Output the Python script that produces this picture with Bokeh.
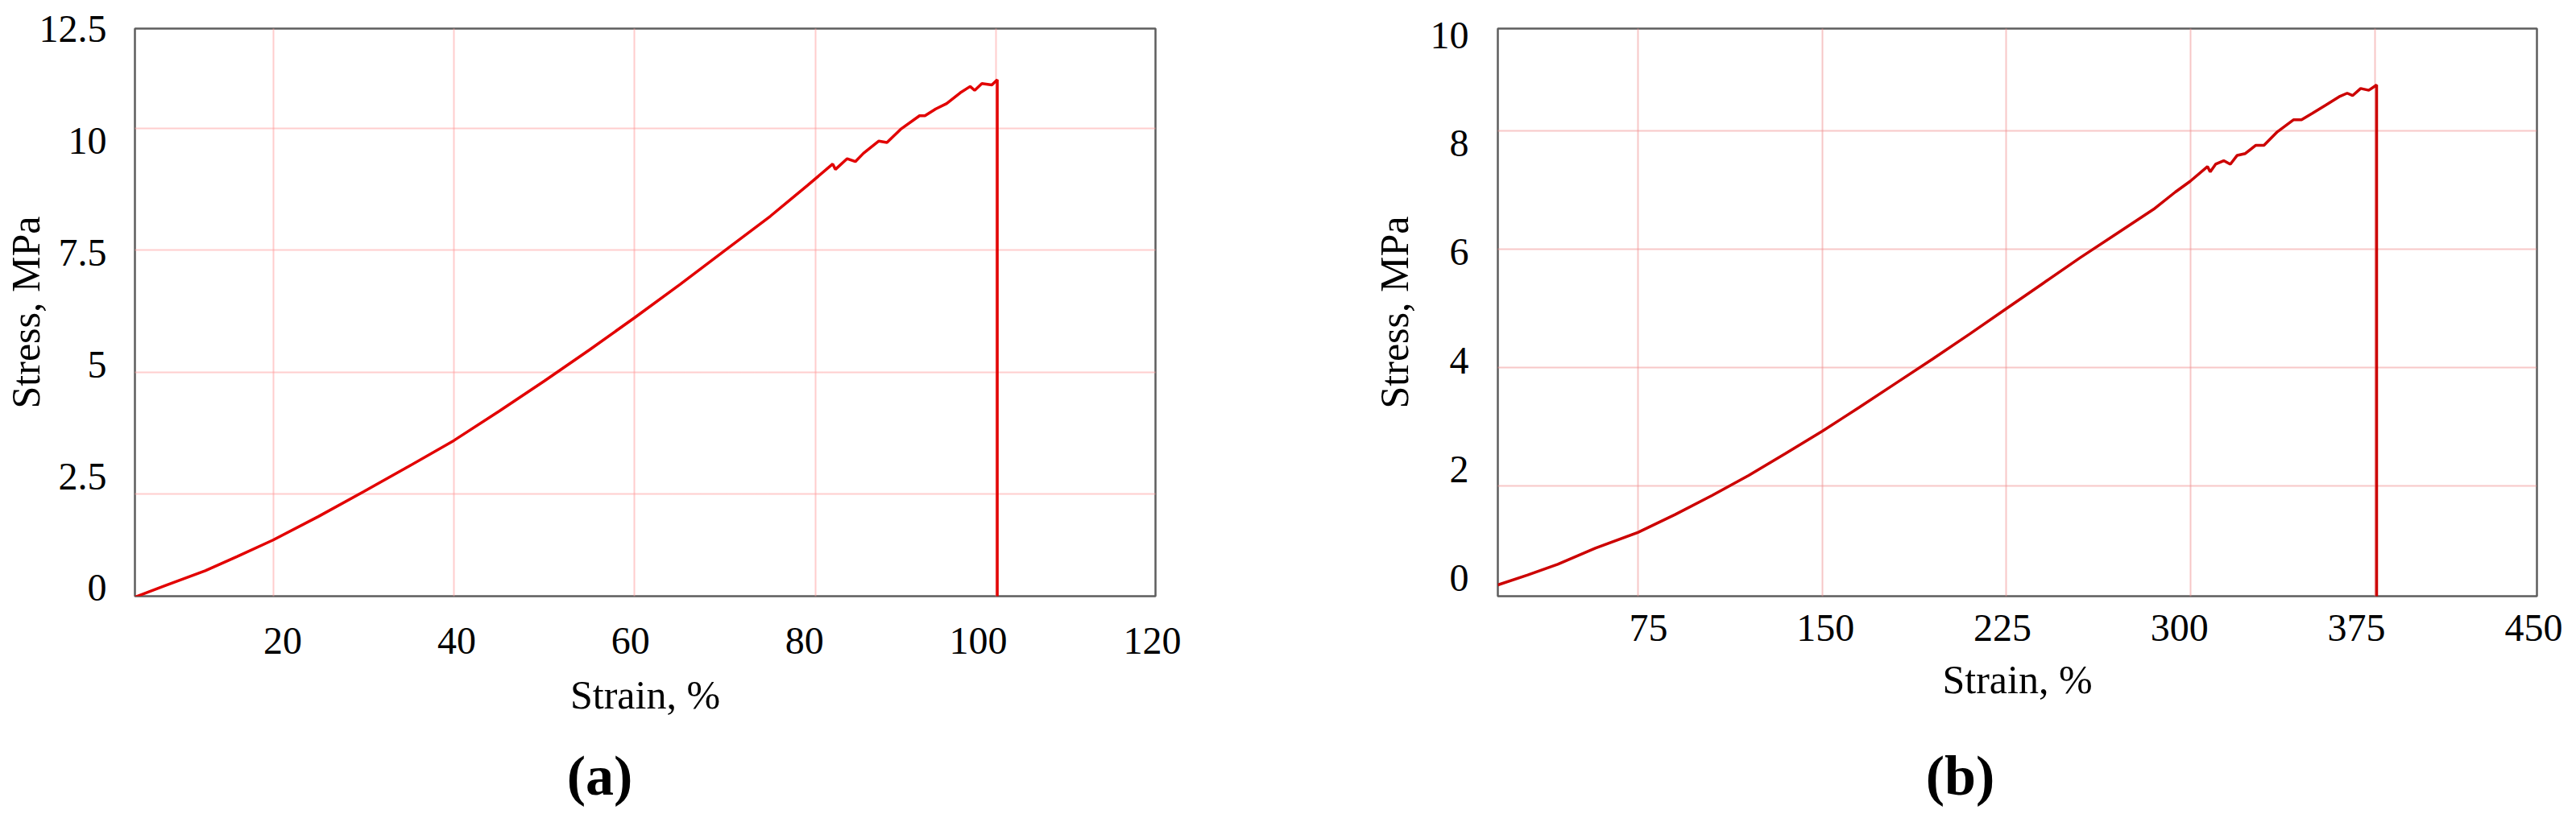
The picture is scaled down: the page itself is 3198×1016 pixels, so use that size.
from bokeh.plotting import figure
from bokeh.layouts import row
from bokeh.models import (Range1d, LinearAxis, FixedTicker, Grid, NumeralTickFormatter,
                          CustomJSTickFormatter)
from bokeh.embed import file_html
from bokeh.resources import INLINE

FONT = "Liberation Serif"

# ---------------- Panel (a) data ----------------
strain_a = [4.72, 8, 12.5, 16, 20, 25, 30, 35, 40, 45, 50, 55, 60, 65, 70, 75,
            79.1, 81.9, 82.2, 83.5, 84.4, 85.3, 87.0, 87.9, 89.4, 91.5, 92.1, 93.3,
            94.5, 96.0, 97.1, 97.6, 98.4, 99.5, 100.1, 100.1]
stress_a = [0.39, 0.62, 0.93, 1.22, 1.56, 2.04, 2.55, 3.07, 3.6, 4.2, 4.82, 5.46, 6.12, 6.8, 7.5, 8.2,
            8.83, 9.27, 9.16, 9.38, 9.32, 9.49, 9.74, 9.71, 9.98, 10.26, 10.26, 10.40,
            10.51, 10.73, 10.86, 10.78, 10.92, 10.89, 11.0, 0.0]
xticks_a = [20, 40, 60, 80, 100, 120]
yticks_a = [0, 2.5, 5, 7.5, 10, 12.5]
xgrid_a = [20, 40, 60, 80, 100]
ygrid_a = [2.5, 5, 7.5, 10]

# ---------------- Panel (b) data ----------------
strain_b = [17.8, 30, 42.2, 57.5, 75, 90, 105, 120, 135, 150, 165, 180, 195, 210, 225, 240, 255,
            270, 285, 293.8, 299.8, 306.9, 308.0, 310.2, 313.5, 316.2, 319.0, 322.3, 326.6,
            329.9, 335.4, 341.9, 345.2, 349.6, 355.1, 360.5, 363.8, 366.0, 369.3, 372.6,
            375.8, 375.8]
stress_b = [0.33, 0.5, 0.68, 0.95, 1.22, 1.52, 1.84, 2.18, 2.55, 2.93, 3.33, 3.74, 4.15, 4.57, 5.0, 5.43, 5.86,
            6.27, 6.68, 6.97, 7.15, 7.40, 7.31, 7.44, 7.50, 7.44, 7.59, 7.62, 7.76,
            7.76, 7.99, 8.19, 8.19, 8.30, 8.44, 8.58, 8.64, 8.60, 8.72, 8.69,
            8.78, 0.0]
xticks_b = [75, 150, 225, 300, 375, 450]
yticks_b = [0, 2, 4, 6, 8, 10]
xgrid_b = [75, 150, 225, 300, 375]
ygrid_b = [2, 4, 6, 8]

H = 1010


def panel(strain, stress, xr, yr, xlr, ylr, xticks, yticks, xgrid, ygrid,
          color, grid_color, width, borders, letter, letter_frac,
          xstandoff, xtitle_standoff, letter_standoff, ystandoff, ytitle_standoff):
    bl, br, bt, bb = borders
    p = figure(width=width, height=H,
               x_range=Range1d(*xr), y_range=Range1d(*yr),
               x_axis_location=None, y_axis_location=None,
               output_backend="svg", toolbar_location=None,
               min_border_left=bl, min_border_right=br,
               min_border_top=bt, min_border_bottom=bb)
    p.center = [r for r in p.center if not isinstance(r, Grid)]
    p.background_fill_color = "white"
    p.border_fill_color = "white"
    p.outline_line_color = "#5e5e5e"
    p.outline_line_width = 2.5

    for dim, ticks in ((0, xgrid), (1, ygrid)):
        p.add_layout(Grid(dimension=dim, ticker=FixedTicker(ticks=ticks),
                          grid_line_color=grid_color, grid_line_width=2,
                          grid_line_dash="1 1"), "center")

    p.extra_x_ranges = {"lab": Range1d(*xlr)}
    p.extra_y_ranges = {"lab": Range1d(*ylr)}

    common = dict(axis_line_color=None, major_tick_line_color=None,
                  minor_tick_line_color=None, major_tick_out=0, major_tick_in=0,
                  minor_tick_out=0, minor_tick_in=0,
                  major_label_text_font=FONT, major_label_text_color="black",
                  axis_label_text_font=FONT, axis_label_text_font_size="50px",
                  axis_label_text_font_style="normal", axis_label_text_color="black")
    num = NumeralTickFormatter(format="0.[0]")
    xa = LinearAxis(x_range_name="lab", ticker=FixedTicker(ticks=xticks), formatter=num,
                    major_label_standoff=xstandoff, major_label_text_font_size="48px",
                    axis_label="Strain, %", axis_label_standoff=xtitle_standoff, **common)
    p.add_layout(xa, "below")
    # panel letter, placed as a single tick label on a second bottom axis
    letter_pos = xlr[0] + letter_frac * (xlr[1] - xlr[0])
    la = LinearAxis(x_range_name="lab", ticker=FixedTicker(ticks=[letter_pos]),
                    formatter=CustomJSTickFormatter(code="return '(%s)'" % letter),
                    major_label_standoff=letter_standoff, major_label_text_font_size="70px",
                    major_label_text_font_style="bold", **common)
    p.add_layout(la, "below")
    ya = LinearAxis(y_range_name="lab", ticker=FixedTicker(ticks=yticks), formatter=num,
                    major_label_standoff=ystandoff, major_label_text_font_size="48px",
                    axis_label="Stress, MPa", axis_label_standoff=ytitle_standoff, **common)
    p.add_layout(ya, "left")

    p.line(strain, stress, line_color=color, line_width=3.5)
    return p


pa = panel(strain_a, stress_a, (4.72, 117.6), (0.408, 12.047), (3.0, 120.37), (-0.18, 12.505),
           xticks_a, yticks_a, xgrid_a, ygrid_a, "#e20000", "#ff9c9c", 1500,
           (163, 66, 35, H - 740), "a", 0.4555,
           39, 20, 31, 35, -14)
pb = panel(strain_b, stress_b, (17.8, 441.1), (0.140, 9.732), (11.2, 451.4), (-0.341, 10.119),
           xticks_b, yticks_b, xgrid_b, ygrid_b, "#cc0000", "#f09090", 1690,
           (359, 41, 35, H - 740), "b", 0.445,
           23, 17, 50, 36, 14)

layout = row(pa, pb)
open("out.html", "w").write(file_html(layout, INLINE))
